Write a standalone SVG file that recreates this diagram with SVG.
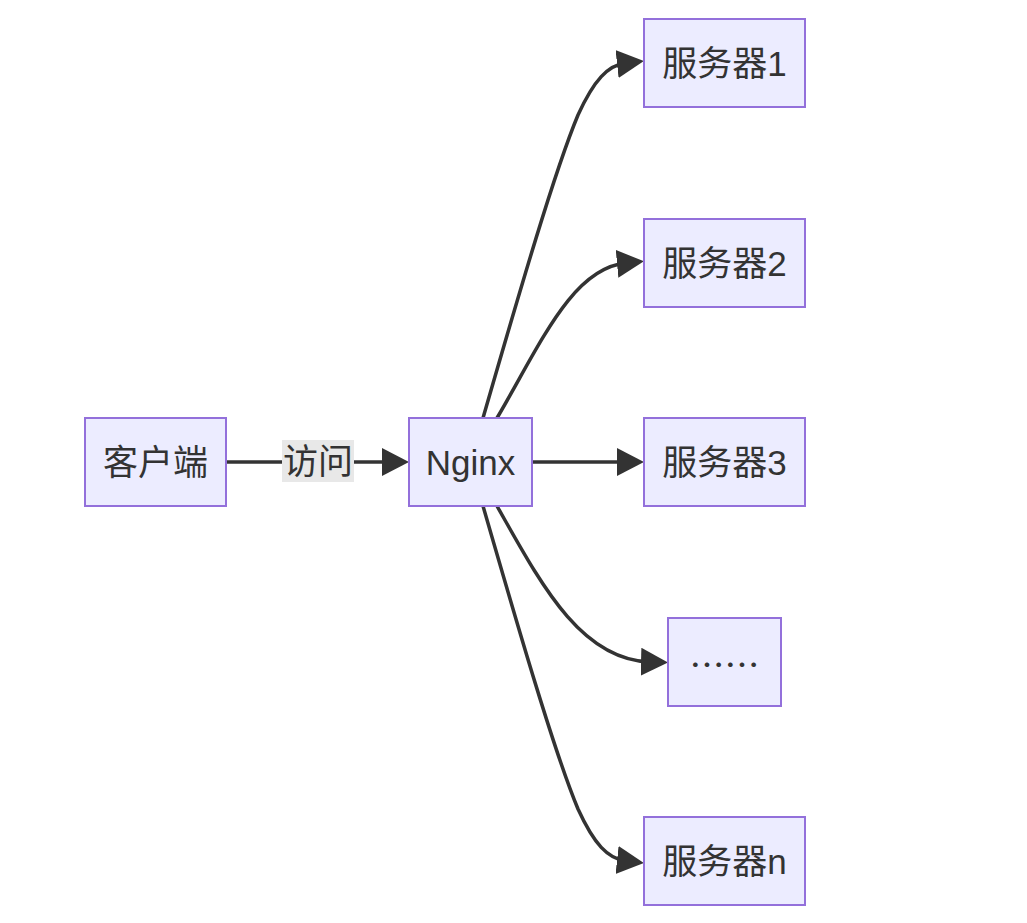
<svg xmlns="http://www.w3.org/2000/svg" width="1027" height="923" viewBox="0 0 1027 923">
<style>
.node rect{fill:#ECECFF;stroke:#9370DB;stroke-width:2}
.node text,.lbl text{font-family:"Liberation Sans","Noto Sans CJK SC",sans-serif;font-size:35px;fill:#333;text-anchor:middle;dominant-baseline:central}
.node text.cjk{font-family:"Noto Sans CJK SC",sans-serif}
.edge{fill:none;stroke:#333;stroke-width:3.5}
</style>
<defs>
<marker id="arr" markerUnits="userSpaceOnUse" markerWidth="28" markerHeight="30" refX="9" refY="14" orient="auto">
<path d="M0,0 L27,14 L0,28 z" fill="#333"/>
</marker>
</defs>
<rect width="1027" height="923" fill="#fff"/>
<g id="edges">
<path class="edge" d="M226,462 L391,462" marker-end="url(#arr)"/>
<path class="edge" d="M532,462 L626,462" marker-end="url(#arr)"/>
<path class="edge" d="M483,418 C520,290 555,170 578,115 C594,80 608,65 626,63" marker-end="url(#arr)"/>
<path class="edge" d="M497,418 C540,345 572,268 626,263" marker-end="url(#arr)"/>
<path class="edge" d="M497,506 C540,582 580,660 650,662" marker-end="url(#arr)"/>
<path class="edge" d="M483,506 C520,634 555,754 578,809 C594,844 608,859 626,861" marker-end="url(#arr)"/>
</g>
<g class="lbl" id="label-visit">
<rect x="282" y="440" width="72" height="42" fill="#e8e8e8"/>
<text x="318" y="461">访问</text>
</g>
<g class="node" id="client"><rect x="85" y="418" width="141" height="88"/><text x="155.5" y="462">客户端</text></g>
<g class="node" id="nginx"><rect x="409" y="418" width="123" height="88"/><text x="470.5" y="462">Nginx</text></g>
<g class="node" id="s1"><rect x="644" y="19" width="161" height="88"/><text x="724.5" y="63">服务器1</text></g>
<g class="node" id="s2"><rect x="644" y="219" width="161" height="88"/><text x="724.5" y="263">服务器2</text></g>
<g class="node" id="s3"><rect x="644" y="418" width="161" height="88"/><text x="724.5" y="462">服务器3</text></g>
<g class="node" id="dots"><rect x="668" y="618" width="113" height="88"/><text class="cjk" x="724.5" y="662">……</text></g>
<g class="node" id="sn"><rect x="644" y="817" width="161" height="88"/><text x="724.5" y="861">服务器n</text></g>
</svg>
